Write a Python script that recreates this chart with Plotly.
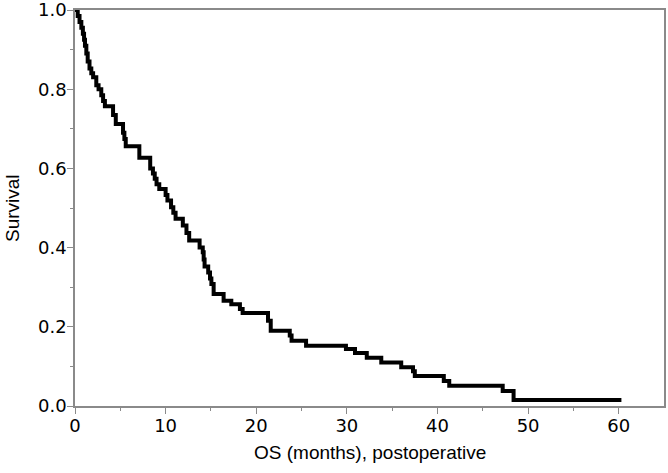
import plotly.graph_objects as go

# Kaplan-Meier step points (time in months, survival after the event)
times = [0, 0.3, 0.5, 0.7, 0.87, 1.0, 1.1, 1.25, 1.4, 1.6, 1.8, 2.0, 2.35, 2.6, 2.9,
         3.1, 3.3, 4.2, 4.5, 5.3, 5.45, 5.6, 7.1, 8.3, 8.6, 8.8, 9.0, 9.3, 10.0, 10.2,
         10.6, 10.85, 11.1, 11.9, 12.3, 12.6, 13.75, 14.1, 14.2, 14.3, 14.7, 14.9, 15.05,
         15.3, 16.4, 17.25, 18.2, 18.5, 21.3, 21.6, 23.7, 23.9, 25.5, 29.9, 30.9, 32.2,
         33.8, 36.0, 37.3, 37.5, 40.7, 41.3, 47.2, 48.4, 60.3]
survival = [1.0, 0.985, 0.97, 0.955, 0.94, 0.925, 0.91, 0.89, 0.87, 0.852, 0.84, 0.83,
            0.81, 0.80, 0.785, 0.77, 0.757, 0.735, 0.712, 0.69, 0.674, 0.656, 0.627, 0.60,
            0.587, 0.574, 0.56, 0.548, 0.533, 0.519, 0.502, 0.488, 0.473, 0.456, 0.437,
            0.418, 0.40, 0.388, 0.37, 0.352, 0.337, 0.322, 0.308, 0.283, 0.266, 0.257,
            0.245, 0.235, 0.215, 0.19, 0.178, 0.165, 0.152, 0.144, 0.134, 0.122, 0.11,
            0.098, 0.088, 0.076, 0.063, 0.051, 0.038, 0.015, 0.015]

x_ticks = [0, 10, 20, 30, 40, 50, 60]
y_ticks = [0.0, 0.2, 0.4, 0.6, 0.8, 1.0]
y_tick_labels = ["0.0", "0.2", "0.4", "0.6", "0.8", "1.0"]
x_title = "OS (months), postoperative"
y_title = "Survival"

fig = go.Figure()
fig.add_trace(go.Scatter(x=times, y=survival, mode="lines",
                         line=dict(color="black", width=4, shape="hv"),
                         showlegend=False))

axis_color = "#8a8a8a"
tick_font = dict(family="DejaVu Sans", size=18, color="black")
title_font = dict(family="Liberation Sans, Arial", size=19, color="black")

fig.update_layout(
    width=668, height=473,
    margin=dict(l=75, r=4, t=10, b=67),
    paper_bgcolor="white", plot_bgcolor="white",
    xaxis=dict(range=[0, 65], tickvals=x_ticks, ticks="outside", ticklen=6,
               tickcolor=axis_color, showline=True, linecolor=axis_color, linewidth=1.5,
               mirror=True, showgrid=False, zeroline=False, tickfont=tick_font,
               automargin=False, ticklabelstandoff=-3, ticklabeloverflow="allow",
               minor=dict(tickvals=[5, 15, 25, 35, 45, 55], ticks="outside", ticklen=3,
                          tickcolor=axis_color, showgrid=False)),
    yaxis=dict(range=[0, 1], tickvals=y_ticks, ticktext=y_tick_labels, ticks="outside",
               ticklen=6, tickcolor=axis_color, showline=True, linecolor=axis_color,
               linewidth=1.5, mirror=True, showgrid=False, zeroline=False,
               tickfont=tick_font, automargin=False, ticklabelstandoff=-3,
               ticklabeloverflow="allow",
               minor=dict(tickvals=[0.1, 0.3, 0.5, 0.7, 0.9], ticks="outside", ticklen=3,
                          tickcolor=axis_color, showgrid=False)),
    annotations=[
        dict(text=x_title, xref="paper", yref="paper", x=0.5, y=0, yshift=-46,
             xanchor="center", yanchor="middle", showarrow=False, font=title_font),
        dict(text=y_title, xref="paper", yref="paper", x=0, y=0.5, xshift=-63,
             xanchor="center", yanchor="middle", textangle=-90, showarrow=False,
             font=title_font),
    ],
)

fig.write_html("out.html", config={"displayModeBar": False},
               post_script="document.body.style.margin='0';")
